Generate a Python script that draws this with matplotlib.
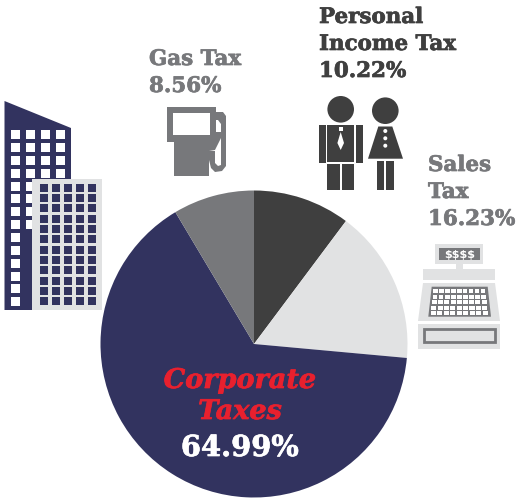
import matplotlib
matplotlib.use('Agg')
import matplotlib.pyplot as plt
import matplotlib.patheffects as pe
from matplotlib.patches import Rectangle, Polygon, Circle

# 数据
categories = ['Personal Income Tax', 'Sales Tax', 'Corporate Taxes', 'Gas Tax']
shares = [10.22, 16.23, 64.99, 8.56]
slice_colors = ['#3f3f3f', '#e1e2e3', '#32335f', '#77787b']

NAVY = '#32335f'
LIGHT = '#e1e2e3'
GRAY = '#77787b'
DARK = '#3f3f3f'
RED = '#e8202e'
W, H = 519, 501
FONT = 'DejaVu Serif'

fig = plt.figure(figsize=(W / 100, H / 100), dpi=100, facecolor='white')

# 饼图
cx, cy, r = 254, 344, 153.5
ax_pie = fig.add_axes([(cx - r) / W, 1 - (cy + r) / H, 2 * r / W, 2 * r / H])
ax_pie.pie(shares, colors=slice_colors, startangle=90, counterclock=False, radius=1)
ax_pie.set_xlim(-1, 1)
ax_pie.set_ylim(-1, 1)
ax_pie.axis('off')

# 像素坐标的覆盖层，放图标和文字
ax = fig.add_axes([0, 0, 1, 1], facecolor='none')
ax.set_xlim(0, W)
ax.set_ylim(H, 0)
ax.axis('off')


def rect(x0, y0, x1, y1, color, **kw):
    ax.add_patch(Rectangle((x0, y0), x1 - x0, y1 - y0, facecolor=color, edgecolor='none', **kw))


def poly(points, color):
    ax.add_patch(Polygon(points, closed=True, facecolor=color, edgecolor='none'))


def circle(x, y, radius, color):
    ax.add_patch(Circle((x, y), radius, facecolor=color, edgecolor='none'))


def draw_building():
    poly([(4.5, 101), (71, 128), (71, 310), (4.5, 310)], NAVY)
    rows = [130, 142.7, 155.7, 168.7, 181.7, 194, 207, 220, 233, 246, 259, 272, 284, 297]
    for i, y in enumerate(rows):
        cols = [11, 26, 41, 56] if i < 8 else [11]
        for x in cols:
            rect(x, y, x + 9, y + 9, 'white')
    rect(32, 179, 102, 310, LIGHT)
    for y in [184, 193.7, 204, 215.3, 225, 235, 246, 256, 266, 277, 287, 297]:
        for x in [40, 52, 64, 76, 88]:
            rect(x, y, x + 8, y + 8, NAVY)


def draw_pump():
    rect(167.3, 107, 216, 142, GRAY)
    rect(174, 142, 209, 176, GRAY)
    rect(173, 113, 210, 135, 'white')
    # 油管
    poly([(216, 112), (223, 112), (226, 116), (226, 166), (222, 171), (215, 172), (211, 168), (209, 160),
          (209, 150), (215, 151), (215, 163), (218, 166), (221, 165), (221, 124), (218, 120), (216, 120)], GRAY)
    # 油枪
    poly([(216, 132), (221, 132), (221, 138), (215, 150), (209, 150), (209, 142), (216, 142)], GRAY)


def draw_people():
    # 男
    circle(340.7, 109.3, 13.3, DARK)
    rect(327, 125, 354, 162, DARK)
    rect(318.5, 125, 325.7, 163, DARK)
    rect(355.7, 125, 362.7, 163, DARK)
    rect(327, 163.5, 340, 190, DARK)
    rect(341.5, 163.5, 354, 190, DARK)
    rect(339, 127, 343, 131, 'white')
    poly([(340.7, 132), (344, 143), (340.7, 150), (337.4, 143)], 'white')
    # 女
    circle(385.3, 110.7, 13.3, DARK)
    poly([(378.3, 126.5), (392.3, 126.5), (403, 158.7), (368, 158.7)], DARK)
    rect(376.7, 161.3, 384.3, 190, DARK)
    rect(386, 161.3, 394.3, 190, DARK)
    for y in [131, 138.3, 145.7]:
        circle(385.3, y, 2, 'white')


def draw_register():
    rect(435, 244, 483, 264, LIGHT)
    rect(439, 248, 480, 259.5, GRAY)
    ax.text(459.5, 258, '$$$$', color='white', fontsize=8, fontfamily='DejaVu Sans', fontweight='bold',
            ha='center', va='baseline', parse_math=False)
    rect(456, 264, 462.5, 269, LIGHT)
    rect(423, 269, 495, 280, LIGHT)
    poly([(423, 283), (495, 283), (500, 321), (418, 321)], LIGHT)
    poly([(431.7, 286.7), (487.7, 286.7), (491, 316.7), (428.3, 316.7)], GRAY)
    for i in range(5):
        y = 289 + i * 5.5
        step = 5.9 + i * 0.15
        x0 = 433.3 - i * 0.65
        for j in range(9):
            x = x0 + j * step
            rect(x, y, x + step - 1.3, y + 4, 'white')
    rect(418, 324, 500, 349, LIGHT)
    ax.add_patch(Rectangle((424.3, 329.3), 70.4, 12.7, facecolor=LIGHT, edgecolor=GRAY, lw=2))


draw_building()
draw_pump()
draw_people()
draw_register()


def label(x, y, s, color, size=15.4, stroke=0.5, **kw):
    kw.setdefault('ha', 'left')
    t = ax.text(x, y, s, color=color, fontsize=size, fontfamily=FONT, fontweight='bold', va='baseline', **kw)
    t.set_path_effects([pe.withStroke(linewidth=stroke, foreground=color)])


label(149, 65, 'Gas Tax', GRAY)
label(149, 92, '8.56%', GRAY)
label(319, 23, 'Personal', DARK)
label(319, 50, 'Income Tax', DARK)
label(319, 77, '10.22%', DARK)
label(428, 171, 'Sales', GRAY)
label(428, 198, 'Tax', GRAY)
label(428, 225, '16.23%', GRAY)
label(240, 388, 'Corporate', RED, size=19.5, ha='center', style='italic')
label(240, 419, 'Taxes', RED, size=19.5, ha='center', style='italic')
label(240, 456, '64.99%', 'white', size=20.8, ha='center')

plt.savefig('out.png', dpi=100)
